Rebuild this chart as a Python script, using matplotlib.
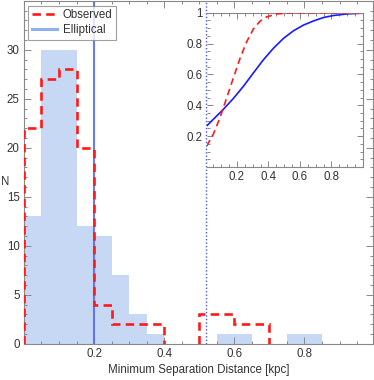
import numpy as np
import matplotlib
matplotlib.use("Agg")
import matplotlib.pyplot as plt
from matplotlib.ticker import MultipleLocator, FixedLocator
from matplotlib.lines import Line2D

plt.rcParams['font.family'] = ['Liberation Sans', 'DejaVu Sans']

# ---- data ----
bin_width = 0.05
elliptical_counts = [13, 30, 30, 12, 11, 7, 3, 1, 0, 0, 0, 1, 1, 0, 0, 1, 1]
observed_counts = [22, 27, 28, 20, 4, 2, 2, 2, 0, 0, 3, 3, 2, 2]
median_elliptical = 0.2
median_observed = 0.52

cdf_ell_x = [0.008, 0.05, 0.113, 0.177, 0.241, 0.304, 0.368, 0.432, 0.496,
             0.559, 0.623, 0.687, 0.75, 0.814, 0.899, 1.0]
cdf_ell_y = [0.266, 0.309, 0.373, 0.444, 0.523, 0.609, 0.695, 0.77, 0.834,
             0.883, 0.92, 0.947, 0.969, 0.982, 0.992, 0.997]
cdf_obs_x = [0.008, 0.05, 0.092, 0.135, 0.177, 0.22, 0.262, 0.304, 0.347,
             0.389, 0.453, 0.538, 0.7, 1.0]
cdf_obs_y = [0.137, 0.212, 0.319, 0.448, 0.577, 0.705, 0.812, 0.894, 0.945,
             0.973, 0.992, 0.999, 1.0, 1.0]

xlabel = "Minimum Separation Distance [kpc]"
ylabel = "N"
legend_labels = ["Observed", "Elliptical"]

# ---- style ----
frame_col = '#888888'
text_col = '#333333'
fill_col = '#c6d8f3'
red = '#ff1a1a'

fig = plt.figure(figsize=(3.74, 3.80), dpi=100)
ax = fig.add_axes([0.064, 0.095, 0.933, 0.903])

edges_e = np.arange(len(elliptical_counts) + 1) * bin_width
ax.bar(edges_e[:-1], elliptical_counts, width=bin_width, align='edge',
       color=fill_col, edgecolor='none', zorder=1)

# observed: step outline for each contiguous non-zero run
obs = np.array(observed_counts)
edges_o = np.arange(len(obs) + 1) * bin_width
i = 0
while i < len(obs):
    if obs[i] > 0:
        j = i
        while j < len(obs) and obs[j] > 0:
            j += 1
        ax.stairs(obs[i:j], edges_o[i:j + 1], baseline=0, fill=False,
                  color=red, lw=1.9, linestyle=(0, (3.2, 2.0)), zorder=3)
        i = j
    else:
        i += 1

ax.axvline(median_elliptical, color='#5a6cee', lw=1.5, alpha=0.9, zorder=2)
ax.axvline(median_observed, color='#4a55ee', lw=1.0, linestyle=(0, (1, 1.5)), zorder=2)

ax.set_xlim(0, 0.995)
ax.set_ylim(0, 35)
ax.xaxis.set_major_locator(FixedLocator([0.2, 0.4, 0.6, 0.8]))
ax.xaxis.set_minor_locator(MultipleLocator(0.05))
ax.yaxis.set_major_locator(FixedLocator([0, 5, 10, 15, 20, 25, 30]))
ax.yaxis.set_minor_locator(MultipleLocator(1))
ax.xaxis.set_major_formatter(plt.FuncFormatter(lambda v, p: f"{v:.1f}"))
ax.tick_params(which='both', direction='in', top=True, right=True,
               color=frame_col, labelcolor=text_col, labelsize=8.3, width=0.7)
ax.tick_params(which='major', length=5, pad=3)
ax.tick_params(which='minor', length=2.5)
for s in ax.spines.values():
    s.set_color(frame_col)
    s.set_linewidth(0.8)

ax.set_xlabel(xlabel, fontsize=8.3, color=text_col, labelpad=3)
fig.text(0.013, 0.52, ylabel, fontsize=8.3, color=text_col, ha='center', va='center')

handles = [Line2D([], [], color=red, lw=1.9, linestyle=(0, (3.2, 2.0))),
           Line2D([], [], color='#8fb0ec', lw=2.2)]
leg = ax.legend(handles, legend_labels, loc='upper left', bbox_to_anchor=(0.012, 0.985),
                fontsize=8.3, frameon=True, fancybox=False, handlelength=2.2,
                handletextpad=0.5, borderpad=0.3, labelspacing=0.25, borderaxespad=0)
leg.get_frame().set_edgecolor(frame_col)
leg.get_frame().set_linewidth(0.8)
for t in leg.get_texts():
    t.set_color(text_col)

# ---- inset ----
ins = fig.add_axes([0.5535, 0.5605, 0.4171, 0.4061])
ins.patch.set_alpha(0)
ins.plot(cdf_ell_x, cdf_ell_y, color='#1a1aff', lw=1.2, zorder=2)
ins.plot(cdf_obs_x, cdf_obs_y, color=red, lw=1.2, linestyle=(0, (4, 2.6)), zorder=3)
ins.set_xlim(0.01, 1.0)
ins.set_ylim(0, 1.0)
ins.xaxis.set_major_locator(FixedLocator([0.2, 0.4, 0.6, 0.8]))
ins.xaxis.set_minor_locator(MultipleLocator(0.05))
ins.yaxis.set_major_locator(FixedLocator([0.2, 0.4, 0.6, 0.8, 1.0]))
ins.yaxis.set_minor_locator(MultipleLocator(0.05))
ins.xaxis.set_major_formatter(plt.FuncFormatter(lambda v, p: f"{v:.1f}"))
ins.yaxis.set_major_formatter(plt.FuncFormatter(lambda v, p: "1" if abs(v - 1) < 1e-9 else f"{v:.1f}"))
ins.tick_params(which='both', direction='in', top=True, right=True,
                color=frame_col, labelcolor=text_col, labelsize=8.3, width=0.7)
ins.tick_params(which='major', length=4, pad=3)
ins.tick_params(which='minor', length=2)
for s in ins.spines.values():
    s.set_color(frame_col)
    s.set_linewidth(0.8)
ins.spines['left'].set_visible(False)

fig.savefig("out.png", dpi=100)
